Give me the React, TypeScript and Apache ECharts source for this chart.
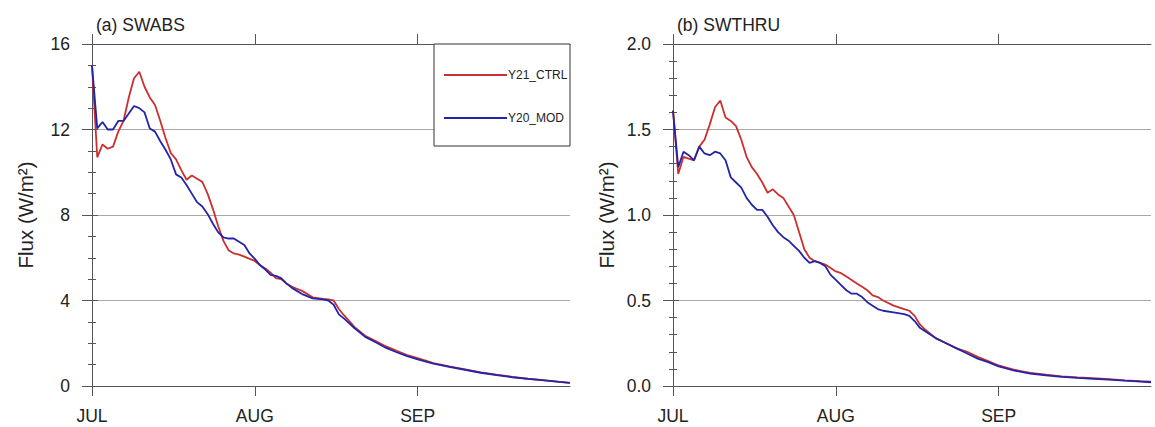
import React, { useEffect, useRef } from "react";
import * as echarts from "echarts";

// Day index since 1 July
const days = [
  0, 1, 2, 3, 4, 5, 6, 7, 8, 9, 10, 11, 12, 13, 14, 15, 16, 17, 18, 19, 20,
  21, 22, 23, 24, 25, 26, 27, 28, 29, 30, 31, 32, 33, 34, 35, 36, 37, 38, 39,
  40, 42, 44, 45, 46, 47, 48, 50, 52, 54, 56, 58, 60, 62, 65, 68, 71, 74, 77,
  80, 83, 86, 89, 91,
];

const monthDays = [0, 31, 62];
const monthLabels = ["JUL", "AUG", "SEP"];

const swabsCtrl = [
  15.0, 10.7, 11.3, 11.1, 11.2, 11.9, 12.4, 13.5, 14.4, 14.7, 14.0, 13.5,
  13.15, 12.4, 11.6, 10.9, 10.6, 10.1, 9.65, 9.85, 9.7, 9.55, 9.0, 8.3, 7.5,
  6.8, 6.35, 6.2, 6.15, 6.05, 5.95, 5.85, 5.65, 5.5, 5.3, 5.05, 5.0, 4.8,
  4.65, 4.55, 4.45, 4.15, 4.08, 4.05, 4.0, 3.6, 3.3, 2.75, 2.35, 2.1, 1.85,
  1.65, 1.45, 1.3, 1.07, 0.92, 0.78, 0.64, 0.53, 0.43, 0.34, 0.27, 0.19, 0.15,
];
const swabsMod = [
  15.0, 12.05, 12.35, 12.0, 12.0, 12.4, 12.4, 12.75, 13.1, 13.0, 12.8, 12.05,
  11.9, 11.45, 11.05, 10.6, 9.9, 9.75, 9.4, 9.0, 8.6, 8.4, 8.05, 7.6, 7.2,
  6.95, 6.9, 6.9, 6.75, 6.6, 6.2, 5.95, 5.65, 5.45, 5.2, 5.15, 5.05, 4.8, 4.6,
  4.45, 4.3, 4.1, 4.05, 4.0, 3.8, 3.35, 3.15, 2.7, 2.3, 2.05, 1.78, 1.58, 1.4,
  1.25, 1.05, 0.9, 0.76, 0.62, 0.51, 0.41, 0.33, 0.26, 0.19, 0.15,
];
const swthruCtrl = [
  1.61, 1.24, 1.34, 1.33, 1.32, 1.4, 1.44, 1.53, 1.63, 1.67, 1.57, 1.55, 1.52,
  1.44, 1.34, 1.28, 1.24, 1.19, 1.13, 1.15, 1.12, 1.1, 1.05, 1.0, 0.9, 0.8,
  0.75, 0.73, 0.72, 0.71, 0.69, 0.67, 0.66, 0.64, 0.62, 0.6, 0.58, 0.56, 0.53,
  0.52, 0.5, 0.47, 0.45, 0.44, 0.41, 0.36, 0.33, 0.28, 0.25, 0.22, 0.2, 0.17,
  0.145, 0.12, 0.095, 0.077, 0.066, 0.056, 0.05, 0.046, 0.04, 0.033, 0.028,
  0.025,
];
const swthruMod = [
  1.61, 1.28, 1.37, 1.35, 1.32, 1.4, 1.36, 1.35, 1.37, 1.36, 1.32, 1.22, 1.19,
  1.16, 1.1, 1.06, 1.03, 1.03, 0.99, 0.94, 0.9, 0.87, 0.85, 0.82, 0.79, 0.75,
  0.72, 0.73, 0.72, 0.7, 0.65, 0.62, 0.59, 0.56, 0.54, 0.54, 0.52, 0.49, 0.47,
  0.45, 0.44, 0.43, 0.42, 0.41, 0.38, 0.34, 0.32, 0.28, 0.25, 0.22, 0.19,
  0.16, 0.14, 0.115, 0.09, 0.073, 0.062, 0.053, 0.047, 0.042, 0.037, 0.031,
  0.026, 0.022,
];

const seriesNames = ["Y21_CTRL", "Y20_MOD"];
const panelTitles = ["(a) SWABS", "(b) SWTHRU"];
const yAxisName = "Flux (W/m²)";

const RED = "#cc2f2f";
const BLUE = "#2424a8";
const AXIS = "#555555";
const FONT = "'Liberation Sans', Arial, sans-serif";

function pairs(vals: number[]) {
  return days.map((d, i) => [d, vals[i]]);
}

export default function App() {
  const ref = useRef<HTMLDivElement>(null);
  useEffect(() => {
    if (!ref.current) return;
    const chart = echarts.init(ref.current, null, { renderer: "svg" });

    const grids = [
      { left: 92, top: 44, width: 478, height: 342 },
      { left: 673, top: 44, width: 478, height: 342 },
    ];

    const xAxes: any[] = [];
    const yAxes: any[] = [];
    const yCfg = [
      { max: 16, interval: 4, minor: 4, fmt: (v: number) => String(v) },
      { max: 2, interval: 0.5, minor: 5, fmt: (v: number) => v.toFixed(1) },
    ];
    [0, 1].forEach((g) => {
      ["bottom", "top"].forEach((pos) => {
        xAxes.push({
          type: "value",
          gridIndex: g,
          position: pos,
          min: 0,
          max: 91,
          axisLine: { show: true, onZero: false, lineStyle: { color: AXIS, width: 1 } },
          axisTick: {
            show: true,
            length: 10,
            customValues: monthDays,
            lineStyle: { color: AXIS, width: 1 },
          },
          axisLabel: {
            show: pos === "bottom",
            customValues: monthDays,
            margin: 21,
            fontSize: 17.5,
            fontFamily: FONT,
            color: "#222",
            formatter: (v: number) => {
              const i = monthDays.indexOf(Math.round(v));
              return i >= 0 ? monthLabels[i] : "";
            },
          },
          splitLine: { show: false },
        });
      });
      ["left", "right"].forEach((pos) => {
        const c = yCfg[g];
        yAxes.push({
          type: "value",
          gridIndex: g,
          position: pos,
          min: 0,
          max: c.max,
          interval: c.interval,
          name: pos === "left" ? yAxisName : "",
          nameLocation: "middle",
          nameGap: 56,
          nameTextStyle: { fontSize: 20.5, fontFamily: FONT, color: "#222" },
          axisLine: { show: true, lineStyle: { color: AXIS, width: 1 } },
          axisTick: { show: true, length: pos === "left" ? 10 : 6, lineStyle: { color: AXIS } },
          minorTick: {
            show: true,
            splitNumber: c.minor,
            length: 4,
            lineStyle: { color: AXIS },
          },
          axisLabel: {
            show: pos === "left",
            margin: 22,
            fontSize: 17.5,
            fontFamily: FONT,
            color: "#222",
            formatter: c.fmt,
          },
          splitLine: {
            show: pos === "left",
            lineStyle: { color: "#a8a8a8", width: 1 },
          },
        });
      });
    });

    const mk = (name: string, vals: number[], color: string, g: number) => ({
      name,
      type: "line",
      xAxisIndex: g * 2,
      yAxisIndex: g * 2,
      data: pairs(vals),
      showSymbol: false,
      symbol: "none",
      color,
      lineStyle: { color, width: 1.8 },
      z: name === seriesNames[0] ? 3 : 4,
    });

    const option: any = {
      animation: false,
      backgroundColor: "#ffffff",
      title: panelTitles.map((t, i) => ({
        text: t,
        left: grids[i].left - 1,
        top: 11,
        textStyle: { fontSize: 17.5, fontWeight: "normal", fontFamily: FONT, color: "#222" },
      })),
      grid: grids,
      xAxis: xAxes,
      yAxis: yAxes,
      legend: {
        data: seriesNames,
        orient: "vertical",
        left: 439,
        top: 64,
        z: 20,
        itemGap: 31,
        itemWidth: 63,
        itemHeight: 2,
        icon: "rect",
        textStyle: { fontSize: 12, fontFamily: FONT, color: "#222", padding: [0, 0, 0, -4] },
      },
      graphic: [
        {
          type: "rect",
          shape: { x: 434, y: 44, width: 136, height: 102 },
          style: { fill: "#fff", stroke: "#333", lineWidth: 1 },
          z: 5,
          silent: true,
        },
      ],
      series: [
        mk(seriesNames[0], swabsCtrl, RED, 0),
        mk(seriesNames[1], swabsMod, BLUE, 0),
        mk(seriesNames[0], swthruCtrl, RED, 1),
        mk(seriesNames[1], swthruMod, BLUE, 1),
      ],
    };
    chart.setOption(option);
    return () => chart.dispose();
  }, []);

  return (
    <div
      ref={ref}
      style={{ position: "fixed", left: 0, top: 0, width: 1155, height: 427, background: "#fff" }}
    />
  );
}
